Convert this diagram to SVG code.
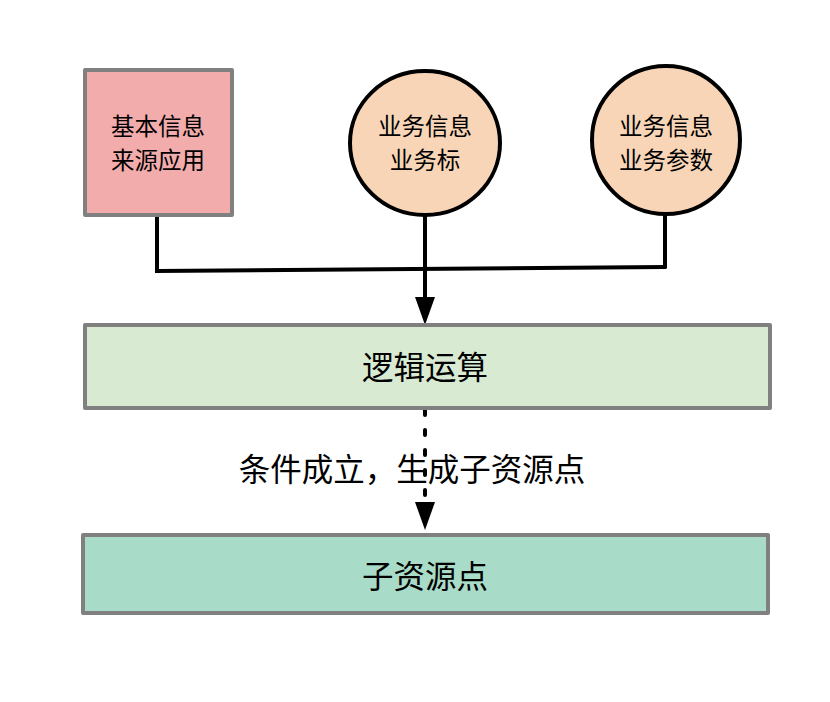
<svg xmlns="http://www.w3.org/2000/svg" width="830" height="702" viewBox="0 0 830 702">
<style>
.box{stroke:#808080;stroke-width:4;stroke-linejoin:round}
.circ{fill:#f8d5b7;stroke:#000;stroke-width:4}
.t{font-family:"Noto Sans CJK SC","Noto Sans",sans-serif;fill:#000;text-anchor:middle}
.s{font-size:23.5px}
.b{font-size:31.5px}
.ln{stroke:#000;stroke-width:4;fill:none;stroke-linecap:round}
</style>
<rect width="830" height="702" fill="#fff"/>
<g id="connectors">
<path class="ln" d="M157,215 L157,271 L665,267"/>
<path class="ln" d="M665,215 L665,267"/>
<path class="ln" d="M425,215 L425,300"/>
<path d="M415,297 L435,297 L425,325 Z" fill="#000"/>
<path class="ln" d="M425,410 L425,502" stroke-dasharray="5 15"/>
<path d="M415,502 L435,502 L425,530 Z" fill="#000"/>
</g>
<g id="node-basic">
<rect class="box" x="85" y="70" width="147" height="145" fill="#f2acac"/>
<text class="t s" x="158" y="135">基本信息</text>
<text class="t s" x="158" y="169">来源应用</text>
</g>
<g id="node-biz-tag">
<ellipse class="circ" cx="425" cy="143" rx="75" ry="72"/>
<text class="t s" x="425" y="135">业务信息</text>
<text class="t s" x="425" y="169">业务标</text>
</g>
<g id="node-biz-param">
<ellipse class="circ" cx="666" cy="140" rx="74" ry="74"/>
<text class="t s" x="666" y="135">业务信息</text>
<text class="t s" x="666" y="169">业务参数</text>
</g>
<g id="node-logic">
<rect class="box" x="85" y="325" width="685" height="83" fill="#d9ead3"/>
<text class="t b" x="425" y="379">逻辑运算</text>
</g>
<g id="edge-label">
<text class="t b" x="412" y="481">条件成立，生成子资源点</text>
</g>
<g id="node-child">
<rect class="box" x="83" y="535" width="685" height="78" fill="#a8dcc9"/>
<text class="t b" x="425" y="588">子资源点</text>
</g>
</svg>
